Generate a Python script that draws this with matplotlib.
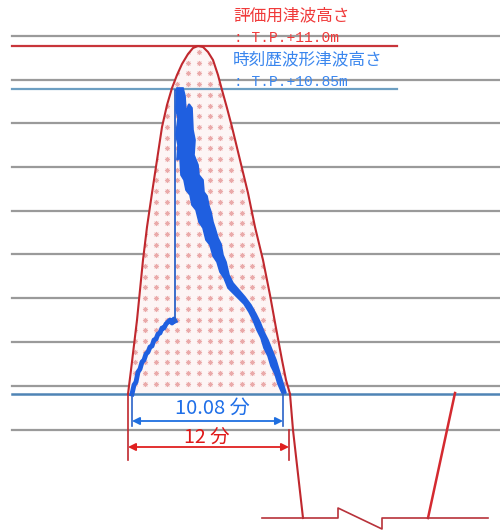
import numpy as np
import matplotlib.pyplot as plt
from matplotlib.patches import Polygon

# schematic drawn in image units (x to the right, y downward)
grid_y = [36, 80, 123, 167, 211, 254, 298, 342, 386, 430]

level_red_y = 45.5    # 評価用津波高さ T.P.+11.0m
level_blue_y = 89     # 時刻歴波形津波高さ T.P.+10.85m
base_y = 394

# red envelope (12 min)
env_x = [128, 131, 134, 137, 140, 143, 147, 152, 157, 162, 167, 172, 177, 182, 188, 193, 198,
         203, 208, 213, 218, 222, 227, 232, 240, 248, 255, 263, 270, 276, 282, 286, 290]
env_y = [394, 370, 345, 320, 290, 260, 227, 193, 160, 127, 105, 88, 75, 64, 54, 48, 46,
         47, 52, 60, 75, 90, 108, 127, 160, 193, 227, 260, 295, 328, 360, 380, 394]
tail_x = [290, 293, 303]
tail_y = [394, 430, 518]
right_x = [428, 455]
right_y = [518, 393]

# blue time series (10.08 min)
rise_x = [132, 134, 136, 138, 140, 142, 144, 146, 148, 150, 152, 154, 156, 158, 160, 162,
          164, 166, 168, 170, 172, 174, 175]
rise_y = [394, 385, 382, 372, 369, 362, 360, 354, 352, 347, 346, 340, 339, 334, 333, 328,
          328, 324, 322, 320, 323, 319, 321]
jump_x = [175, 175, 176]
jump_y = [321, 90, 90]
band_left_x = [177, 176, 178, 176, 178, 177, 180, 181, 184, 186, 190, 192, 196, 199, 203,
               206, 210, 213, 217, 220, 224, 228, 233, 239, 244, 249, 253, 257, 261, 264,
               268, 271, 275, 278, 282]
band_left_y = [88, 110, 118, 135, 145, 160, 158, 175, 180, 190, 195, 205, 210, 222, 228,
               240, 245, 256, 262, 272, 278, 288, 293, 299, 304, 312, 320, 330, 338, 348,
               356, 366, 374, 384, 393]
band_right_x = [183, 185, 186, 189, 192, 193, 195, 194, 198, 199, 203, 204, 207, 209, 211,
                213, 215, 218, 221, 223, 226, 229, 233, 239, 245, 251, 256, 260, 264, 268,
                272, 276, 279, 282, 286]
band_right_y = [88, 96, 112, 104, 108, 130, 140, 155, 165, 175, 180, 192, 196, 206, 212,
                222, 228, 238, 244, 255, 262, 275, 283, 290, 297, 305, 314, 322, 332, 340,
                350, 360, 370, 380, 393]

# bottom base line with break mark
brk_x = [262, 338, 338, 382, 382, 488]
brk_y = [518, 518, 508, 529, 518, 518]

fig = plt.figure(figsize=(5, 5.3), dpi=100)
ax = fig.add_axes([0, 0, 1, 1])
ax.set_xlim(0, 500)
ax.set_ylim(530, 0)
ax.axis('off')

for y in grid_y:
    ax.plot([12, 500], [y, y], color='#9a9a9a', lw=1.6, zorder=1)
ax.plot([12, 397], [level_red_y, level_red_y], color='#c8353a', lw=1.6, zorder=2)
ax.plot([12, 397], [level_blue_y, level_blue_y], color='#6d9fc2', lw=1.6, zorder=2)
ax.plot([12, 500], [base_y, base_y], color='#4f84b5', lw=1.8, zorder=2)

# pink dotted fill inside envelope
poly = Polygon(list(zip(env_x, env_y)), closed=True, facecolor='#fdf5f5',
               edgecolor='none', zorder=1.5)
ax.add_patch(poly)
gx, gy = np.meshgrid(np.arange(124, 295, 10.7), np.arange(52, 394, 10.7))
dots = ax.scatter(gx.ravel(), gy.ravel(), marker=(8, 2, 0), s=10, color='#eaaaaa',
                  linewidths=0.6, zorder=1.6)
dots.set_clip_path(poly)

ax.plot(env_x, env_y, color='#c0282e', lw=1.5, zorder=4)
ax.plot(tail_x, tail_y, color='#c0282e', lw=1.5, zorder=4)
ax.plot(right_x, right_y, color='#d42a30', lw=1.8, zorder=4)
ax.plot(brk_x, brk_y, color='#b8323a', lw=1.2, zorder=4)

# blue series
ax.plot(rise_x, rise_y, color='#1f5fe0', lw=3.5, zorder=5)
ax.plot(jump_x, jump_y, color='#2a62c8', lw=1.3, zorder=5)
band = Polygon(list(zip(band_left_x, band_left_y)) + list(zip(band_right_x, band_right_y))[::-1],
               closed=True, facecolor='#1f5fe0', edgecolor='#1f5fe0', lw=1.2, zorder=5)
ax.add_patch(band)

# dimension lines
ax.plot([132, 132], [394, 426], color='#2a62c8', lw=1.2, zorder=5)
ax.plot([283, 283], [390, 426], color='#2a62c8', lw=1.2, zorder=5)
ax.annotate('', xy=(132, 421), xytext=(283, 421),
            arrowprops=dict(arrowstyle='<|-|>', color='#1f6fe0', lw=1.3,
                            mutation_scale=11, shrinkA=0, shrinkB=0))
ax.plot([128, 128], [394, 460], color='#c0282e', lw=1.2, zorder=5)
ax.plot([289, 289], [430, 460], color='#c0282e', lw=1.2, zorder=5)
ax.annotate('', xy=(128, 447), xytext=(289, 447),
            arrowprops=dict(arrowstyle='<|-|>', color='#e02020', lw=1.3,
                            mutation_scale=11, shrinkA=0, shrinkB=0))

jp = ['Noto Sans CJK JP', 'DejaVu Sans']
ax.text(212, 408, '10.08 分', color='#1f6fe8', fontsize=14.5, ha='center', va='center',
        family=jp, zorder=6)
ax.text(207, 437, '12 分', color='#e01818', fontsize=14, ha='center', va='center',
        family=jp, zorder=6)

ax.text(233, 16, '評価用津波高さ', color='#f03a3a', fontsize=12, ha='left', va='center',
        family=jp)
ax.text(234, 38, ': T.P.+11.0m', color='#f03a3a', fontsize=10.5, ha='left', va='center',
        family=['Liberation Mono'])
ax.text(233, 60, '時刻歴波形津波高さ', color='#3a86ee', fontsize=12, ha='left', va='center',
        family=jp)
ax.text(234, 82, ': T.P.+10.85m', color='#3a86ee', fontsize=10.5, ha='left', va='center',
        family=['Liberation Mono'])

fig.savefig('out.png', dpi=100)
